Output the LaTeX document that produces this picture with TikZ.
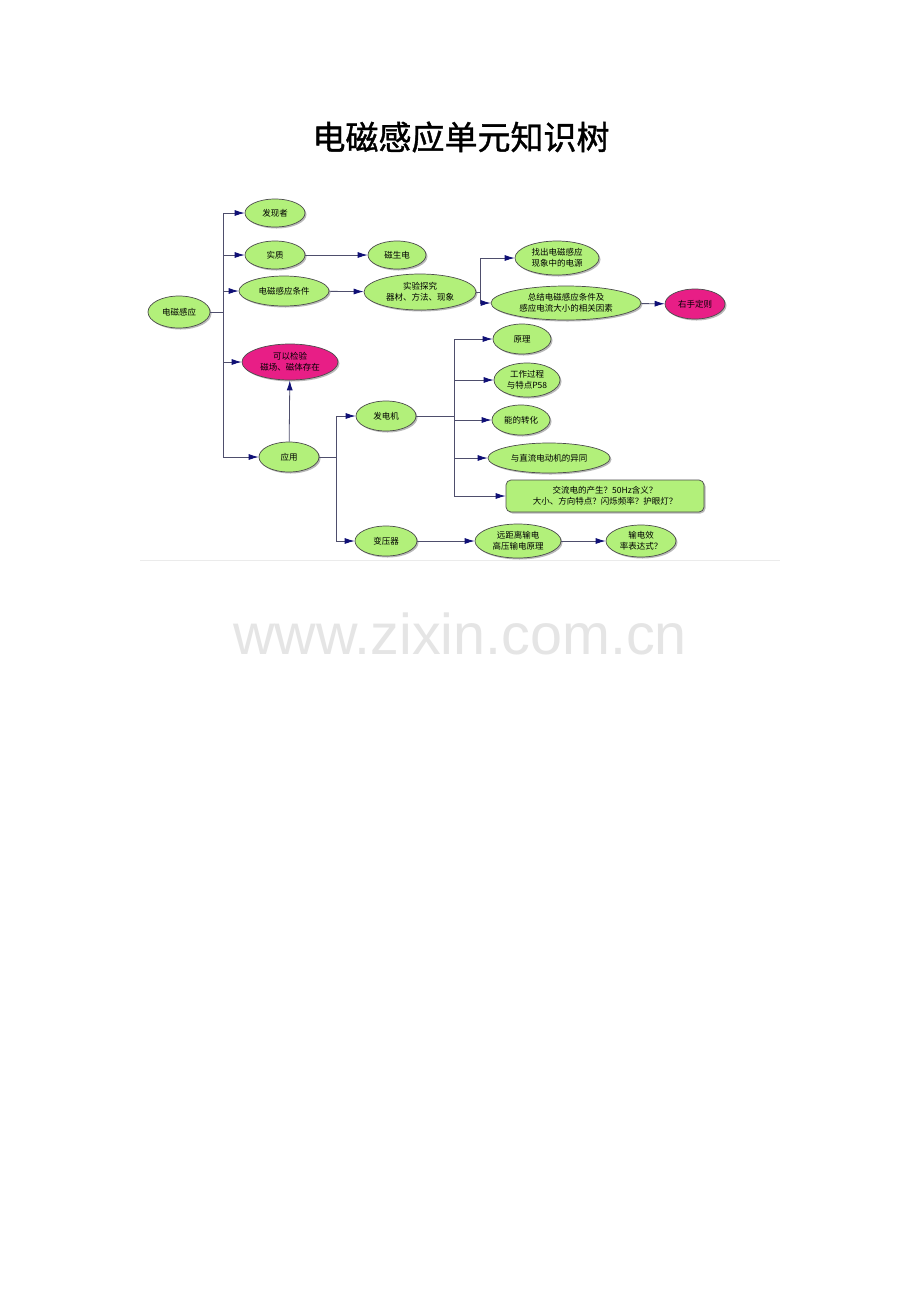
\documentclass[tikz,border=0pt]{standalone}
\usepackage{fontspec}
\setmainfont{Liberation Sans}
\newfontfamily\cjk{Noto Sans CJK SC}
\newfontfamily\cjkhead[FakeBold=1.2]{Noto Sans CJK SC}
\usetikzlibrary{shapes.geometric, positioning, arrows.meta, shadows}

\definecolor{leaf}{RGB}{178,240,122}
\definecolor{rose}{RGB}{232,30,134}
\definecolor{wire}{RGB}{78,78,108}
\definecolor{tipblue}{RGB}{16,16,118}

\tikzset{
  bubble/.style={ellipse, draw=black!70, line width=0.7pt, fill=leaf, inner sep=0pt,
    align=center, font=\cjk\fontsize{8.5}{11}\selectfont,
    drop shadow={opacity=0.55, shadow xshift=1.5pt, shadow yshift=-1.5pt}},
  hot/.style={bubble, fill=rose},
  boxy/.style={bubble, rectangle, rounded corners=5pt},
  link/.style={draw=wire, line width=0.8pt,
    -{Latex[length=10pt,width=6pt,fill=tipblue,color=tipblue]}},
  plain/.style={draw=wire, line width=0.8pt}
}

\begin{document}
\begin{tikzpicture}[x=1pt,y=-1pt]
  \useasboundingbox[fill=white] (0,0) rectangle (920,1302);
  % title and watermark
  \node (title) at (461,137) {\cjkhead\fontsize{33}{38}\selectfont 电磁感应单元知识树};
  \node[text=black!10] (mark) at (460,634) {\fontsize{57.5}{62}\selectfont www.zixin.com.cn};
  \draw[black!8, line width=0.8pt] (140,560) -- (780,560);

  % first level
  \node[bubble, minimum width=62, minimum height=32] (root) at (179,312) {电磁感应};
  \node[bubble, minimum width=60, minimum height=28] (faxian) at (275,213) {发现者};
  \node[bubble, minimum width=60, minimum height=28] (shizhi) at (275,255) {实质};
  \node[bubble, minimum width=90, minimum height=30] (tiaojian) at (284,291) {电磁感应条件};
  \node[hot, minimum width=96, minimum height=36] (jianyan) at (290,362) {可以检验\\磁场、磁体存在};
  \node[bubble, minimum width=60, minimum height=30] (yingyong) at (289,457) {应用};

  % second level
  \node[bubble, minimum width=58, minimum height=28] (cishengdian) at (397,255) {磁生电};
  \node[bubble, minimum width=112, minimum height=36] (tanjiu) at (420,292) {实验探究\\器材、方法、现象};
  \node[bubble, minimum width=84, minimum height=34] (dianyuan) at (557,258) {找出电磁感应\\现象中的电源};
  \node[bubble, minimum width=150, minimum height=34] (yinsu) at (566,303) {总结电磁感应条件及\\感应电流大小的相关因素};
  \node[hot, minimum width=60, minimum height=30] (youshou) at (695,304) {右手定则};
  \node[bubble, minimum width=60, minimum height=30] (fadianji) at (386,416) {发电机};
  \node[bubble, minimum width=62, minimum height=30] (bianyaqi) at (386,541) {变压器};

  % generator branch
  \node[bubble, minimum width=58, minimum height=30] (yuanli) at (522,339) {原理};
  \node[bubble, minimum width=66, minimum height=34] (guocheng) at (527,380) {工作过程\\与特点P58};
  \node[bubble, minimum width=58, minimum height=30] (zhuanhua) at (521,420) {能的转化};
  \node[bubble, minimum width=122, minimum height=30] (yitong) at (549,458) {与直流电动机的异同};
  \node[boxy, minimum width=198, minimum height=32] (jiaoliu) at (605,496) {交流电的产生？50Hz含义？\\大小、方向特点？闪烁频率？护眼灯？};

  % transformer branch
  \node[bubble, minimum width=86, minimum height=34] (shudian) at (518,541) {远距离输电\\高压输电原理};
  \node[bubble, minimum width=70, minimum height=32] (xiaolv) at (641,541) {输电效\\率表达式？};

  % forks
  \coordinate (fork1) at (223,312);
  \coordinate (fork2) at (480,292);
  \coordinate (fork3) at (336,457);
  \coordinate (fork4) at (454,416);

  \draw[plain] (root) -- (fork1);
  \foreach \n in {faxian,shizhi,tiaojian,jianyan,yingyong}
    \draw[link] (fork1) |- (\n);
  \draw[link] (shizhi) -- (cishengdian);
  \draw[link] (tiaojian) -- (tanjiu);
  \draw[plain] (tanjiu) -- (fork2);
  \foreach \n in {dianyuan,yinsu}
    \draw[link] (fork2) |- (\n);
  \draw[link] (yinsu) -- (youshou);
  \draw[link] (yingyong) -- (jianyan);
  \draw[plain] (yingyong) -- (fork3);
  \foreach \n in {fadianji,bianyaqi}
    \draw[link] (fork3) |- (\n);
  \draw[plain] (fadianji) -- (fork4);
  \foreach \n in {yuanli,guocheng,zhuanhua,yitong,jiaoliu}
    \draw[link] (fork4) |- (\n);
  \draw[link] (bianyaqi) -- (shudian);
  \draw[link] (shudian) -- (xiaolv);
\end{tikzpicture}
\end{document}
